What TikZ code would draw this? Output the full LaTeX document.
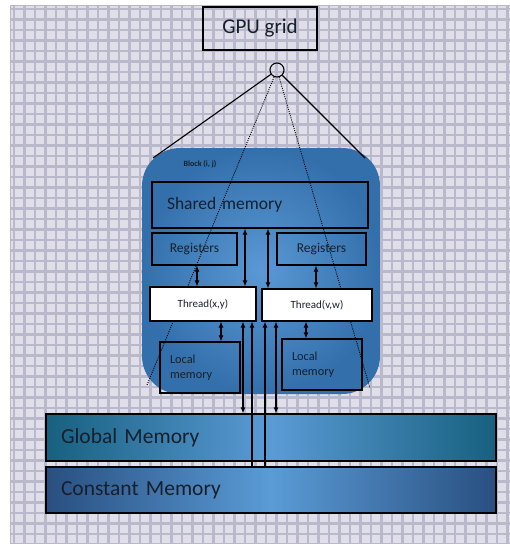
\documentclass[tikz,border=0pt]{standalone}
\usepackage{fontspec}
\setmainfont{Carlito}
\usetikzlibrary{arrows.meta,calc}

\definecolor{meshbg}{HTML}{DFDEE9}
\definecolor{meshline}{HTML}{BAB8CB}
\definecolor{frameline}{HTML}{B8B8C0}
\definecolor{blockin}{HTML}{5A99D5}
\definecolor{blockout}{HTML}{336FAB}
\definecolor{globedge}{HTML}{17607F}
\definecolor{constedge}{HTML}{294F80}
\definecolor{memmid}{HTML}{5A9BD6}
\definecolor{inktext}{HTML}{16202C}

\tikzset{
  membox/.style={draw=black, line width=1.1pt, rectangle, inner sep=0pt, text=inktext},
  threadbox/.style={membox, fill=white, font=\fontsize{11}{13}\selectfont},
  smallbox/.style={membox, font=\fontsize{12.3}{15}\selectfont},
  regbox/.style={membox, font=\fontsize{13.5}{15}\selectfont},
  bigbar/.style={draw=black, line width=1.1pt, rectangle, inner sep=0pt, text=inktext,
    font=\fontsize{21.5}{24}\selectfont, align=left, inner xsep=15pt},
  link/.style={black, line width=1.1pt},
  hint/.style={black, line width=0.9pt, dash pattern=on 1pt off 1.2pt},
  both/.style={link, {Latex[length=6pt,width=5pt]}-{Latex[length=6pt,width=5pt]}},
  upward/.style={link, {Latex[length=6pt,width=5pt]}-}
}

\begin{document}
\begin{tikzpicture}[x=1pt,y=-1pt]
  \useasboundingbox (0,0) rectangle (510,544);
  \fill[white] (0,0) rectangle (510,544);

  % woven backdrop
  \begin{scope}
    \clip (10,5) rectangle (510,544);
    \fill[meshbg] (10,5) rectangle (510,544);
    \foreach \k in {0,...,48} {
      \draw[meshline, line width=2.6pt] (14+10.5*\k,5) -- (14+10.5*\k,544);
    }
    \foreach \k in {0,...,52} {
      \draw[meshline, line width=2.6pt] (10,9+10.5*\k) -- (510,9+10.5*\k);
    }
  \end{scope}
  \draw[frameline, line width=0.8pt] (10,544) -- (10,5) -- (510,5);

  % grid label and fan-out point
  \node[membox, minimum width=114pt, minimum height=43pt,
        font=\fontsize{21}{24}\selectfont] (gpu) at (260,28.5) {GPU grid};
  \node[draw=black, line width=1.1pt, circle, minimum size=14pt, inner sep=0pt]
        (hub) at (277,70) {};

  % the thread block
  \node[rectangle, rounded corners=38pt, minimum width=238pt, minimum height=246pt,
        inner color=blockin, outer color=blockout, inner sep=0pt] (block) at (261,271) {};
  \node[font=\fontsize{8}{9}\selectfont\bfseries, text=inktext, inner sep=0pt]
        (blabel) at (200,164) {Block (i, j)};

  \coordinate (blockTL) at (153,158);
  \coordinate (blockTR) at (365,158);
  \coordinate (blockBL) at (147,385);
  \coordinate (blockBR) at (370,388);

  \draw[link] (hub) -- (blockTL);
  \draw[link] (hub) -- (blockTR);
  \draw[hint] (hub) -- (blockBL);
  \draw[hint] (hub) -- (blockBR);

  % memories inside the block
  \node[membox, minimum width=216pt, minimum height=46pt, align=left,
        text width=186pt, font=\fontsize{17.5}{20}\selectfont] (shared) at (260,205)
        {\raisebox{3pt}{Shared memory}};
  \node[regbox, minimum width=85pt, minimum height=32pt] (reg1) at (194.5,249)
        {\raisebox{2pt}{Registers}};
  \node[regbox, minimum width=89pt, minimum height=32pt] (reg2) at (321.5,249)
        {\raisebox{2pt}{Registers}};
  \node[threadbox, minimum width=106pt, minimum height=34pt] (thr1) at (203,304)
        {Thread(x,y)};
  \node[threadbox, minimum width=110pt, minimum height=32pt] (thr2) at (317,305)
        {Thread(v,w)};
  \node[smallbox, minimum width=80pt, minimum height=51pt, align=left,
        text width=60pt] (loc1) at (200,367.5) {Local\\memory};
  \node[smallbox, minimum width=80pt, minimum height=51pt, align=left,
        text width=60pt] (loc2) at (322,364.5) {Local\\memory};

  % device-wide memories
  \node[bigbar, minimum width=450pt, minimum height=47pt, text width=420pt,
        left color=globedge, right color=globedge, middle color=memmid]
        (glob) at (271,437.5) {Global Memory};
  \node[bigbar, minimum width=450pt, minimum height=46pt, text width=420pt,
        left color=constedge, right color=constedge, middle color=memmid]
        (const) at (271,490) {Constant Memory};

  % column positions of the connectors
  \coordinate (cA) at (197,0);
  \coordinate (cB) at (221,0);
  \coordinate (cC) at (245,0);
  \coordinate (cD) at (268,0);
  \coordinate (cE) at (316,0);
  \coordinate (cF) at (306,0);
  \coordinate (cG) at (243,0);
  \coordinate (cH) at (252,0);
  \coordinate (cI) at (265,0);
  \coordinate (cJ) at (276,0);

  % register, shared and local traffic
  \draw[both] (reg1.south -| cA) -- (thr1.north -| cA);
  \draw[both] (thr1.south -| cB) -- (loc1.north -| cB);
  \draw[both] (shared.south -| cC) -- (thr1.north -| cC);
  \draw[both] (shared.south -| cD) -- (thr2.north -| cD);
  \draw[both] (reg2.south -| cE) -- (thr2.north -| cE);
  \draw[both] (thr2.south -| cF) -- (loc2.north -| cF);

  % global and constant traffic
  \draw[both] (thr1.south -| cG) -- (glob.north -| cG);
  \draw[upward] (thr1.south -| cH) -- (const.north -| cH);
  \draw[upward] (thr2.south -| cI) -- (const.north -| cI);
  \draw[both] (thr2.south -| cJ) -- (glob.north -| cJ);
\end{tikzpicture}
\end{document}
